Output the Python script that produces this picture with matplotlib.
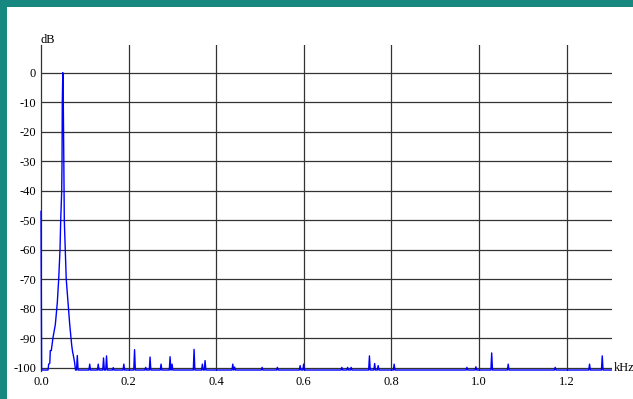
import matplotlib.pyplot as plt
import matplotlib.transforms as mtransforms
from matplotlib.patches import Rectangle

plt.rcParams['font.family'] = ['Liberation Serif', 'DejaVu Serif']

# spectrum floor (dB)
floor_db = -100.8

# main lobe of the 50 Hz component
lobe_khz = [0.0, 0.0014, 0.0160, 0.0176, 0.0201, 0.0212, 0.0235, 0.0258, 0.0274,
            0.0327, 0.0372, 0.0404, 0.0434, 0.0450, 0.0473, 0.0480, 0.0486, 0.0498,
            0.0509, 0.0516, 0.0521, 0.0532, 0.0555, 0.0576, 0.0617, 0.0656, 0.0685,
            0.0701, 0.0720, 0.0735, 0.0765, 0.0788]
lobe_db = [-47.0, -100.8, -100.8, -98.8, -98.5, -94.2, -94.2, -91.5, -89.8,
           -85.4, -78.0, -70.0, -60.0, -50.0, -40.0, -30.0, -10.0, 0.0,
           -10.0, -20.0, -30.0, -50.0, -60.0, -70.0, -78.0, -85.4, -90.0,
           -92.4, -94.5, -95.6, -98.0, -100.8]

# small spurious lines above the floor
spike_khz = [0.0829, 0.1112, 0.1307, 0.1428, 0.1496, 0.1649, 0.1891, 0.2136, 0.2391,
             0.2490, 0.2741, 0.2947, 0.2992, 0.3495, 0.3684, 0.3746, 0.4379, 0.4420,
             0.5048, 0.5397, 0.5916, 0.5996, 0.6868, 0.7001, 0.7081, 0.7499, 0.7618,
             0.7698, 0.8063, 0.9724, 0.9929, 1.0290, 1.0667, 1.1740, 1.2524, 1.2814]
spike_db = [-95.9, -98.8, -98.8, -96.7, -96.0, -100.0, -98.8, -93.9, -99.9,
            -96.4, -98.8, -96.3, -98.8, -93.8, -98.8, -97.6, -98.8, -99.8,
            -99.9, -99.9, -99.3, -98.8, -99.9, -99.9, -99.9, -96.0, -98.6,
            -99.3, -98.8, -99.9, -99.7, -95.0, -98.8, -99.9, -98.8, -96.0]

end_khz = 1.302

x_ticks = [0.0, 0.2, 0.4, 0.6, 0.8, 1.0, 1.2]
x_ticklabels = ['0.0', '0.2', '0.4', '0.6', '0.8', '1.0', '1.2']
y_ticks = [0, -10, -20, -30, -40, -50, -60, -70, -80, -90, -100]

# build the trace: lobe, then each spike as a narrow triangle on the floor
half_w = 0.0018
xs = list(lobe_khz)
ys = list(lobe_db)
for f, d in zip(spike_khz, spike_db):
    xs += [f - half_w, f, f + half_w]
    ys += [floor_db, d, floor_db]
xs.append(end_khz)
ys.append(floor_db)

fig = plt.figure(figsize=(6.33, 3.99), dpi=100)
fig.patch.set_facecolor('white')
teal = '#168880'
fig.patches.append(Rectangle((0, 1 - 7 / 399), 1, 7 / 399, transform=fig.transFigure,
                             facecolor=teal, edgecolor='none'))
fig.patches.append(Rectangle((0, 0), 7 / 633, 1, transform=fig.transFigure,
                             facecolor=teal, edgecolor='none'))

ax = fig.add_axes([41 / 633, 1 - 371.2 / 399, (611.7 - 41) / 633, (371.2 - 44.7) / 399])
ax.set_facecolor('none')
ax.set_xlim(0, 1.303)
ax.set_ylim(-101.2, 9.5)

grid_c = '#333333'
for t in y_ticks:
    ax.axhline(t, color=grid_c, lw=0.9, zorder=1)
for t in x_ticks[1:]:
    ax.axvline(t, color=grid_c, lw=0.9, zorder=1)

ax.plot(xs, ys, color='#0000ff', lw=1.0, zorder=3, clip_on=False)

for s in ['top', 'right', 'bottom']:
    ax.spines[s].set_visible(False)
ax.spines['left'].set_color(grid_c)
ax.spines['left'].set_linewidth(0.9)

ax.set_xticks(x_ticks)
ax.set_xticklabels(x_ticklabels)
ax.set_yticks(y_ticks)
ax.set_yticklabels([str(t) for t in y_ticks])
ax.tick_params(length=0, labelsize=9, pad=3.6)

ax.annotate('dB', xy=(0, 1), xycoords='axes fraction', xytext=(0, -1.0),
            textcoords='offset points', ha='left', va='bottom', fontsize=9)
trans = mtransforms.blended_transform_factory(ax.transAxes, ax.transData)
ax.annotate('kHz', xy=(1, -100), xycoords=trans, xytext=(1.2, 0),
            textcoords='offset points', ha='left', va='center', fontsize=9)

fig.savefig('out.png', dpi=100)
